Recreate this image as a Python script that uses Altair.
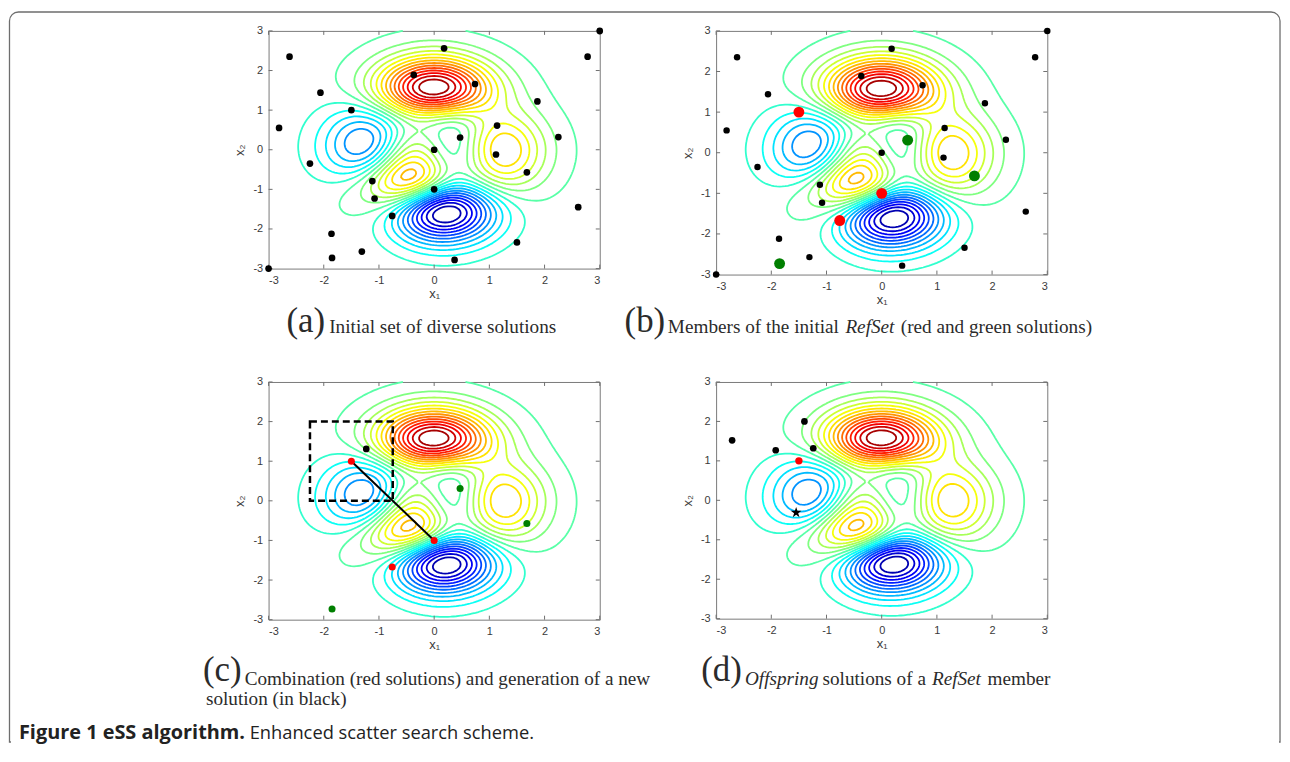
import numpy as np
import pandas as pd
import altair as alt

alt.data_transformers.disable_max_rows()

# ---------------- data ----------------
tick_values = [-3, -2, -1, 0, 1, 2, 3]

# (a) initial set of diverse solutions
a_x = [3.0, -2.62, 0.18, 2.78, -0.37, 0.74, -2.06, 1.87, -1.5, -2.81, 1.14, 0.47, 2.25, 0.0,
       1.12, -2.25, 1.68, -1.12, 0.0, -1.08, -0.76, 2.61, -1.86, 1.5, -1.31, -1.85, 0.37, -3.0]
a_y = [3.0, 2.35, 2.56, 2.35, 1.89, 1.66, 1.44, 1.22, 1.0, 0.55, 0.61, 0.31, 0.32, 0.0,
       -0.12, -0.35, -0.57, -0.79, -1.0, -1.23, -1.67, -1.45, -2.12, -2.34, -2.57, -2.73, -2.78, -3.0]

# (b) RefSet members
red_x = [-1.5, 0.0, -0.76]
red_y = [1.0, -1.0, -1.67]
green_x = [0.47, 1.68, -1.85]
green_y = [0.31, -0.57, -2.73]

# (c) combination
new_x = [-1.23]
new_y = [1.31]
comb_x = [-1.5, 0.0]
comb_y = [1.0, -1.0]
box_x = [-2.25, -0.75]
box_y = [0.0, 2.0]

# (d) offspring
off_x = [-2.71, -1.92, -1.40, -1.24]
off_y = [1.52, 1.27, 2.0, 1.32]
d_red_x = [-1.5]
d_red_y = [1.0]
star_x = [-1.55]
star_y = [-0.31]

n_levels = 25

STAR = ("M0,-1L0.2245,-0.309L0.951,-0.309L0.363,0.118L0.588,0.809L0,0.382"
        "L-0.588,0.809L-0.363,0.118L-0.951,-0.309L-0.2245,-0.309Z")

# ---------------- contour lines of the test function ----------------
def peaks(X, Y):
    return (3 * (1 - X) ** 2 * np.exp(-X ** 2 - (Y + 1) ** 2)
            - 10 * (X / 5 - X ** 3 - Y ** 5) * np.exp(-X ** 2 - Y ** 2)
            - 1 / 3 * np.exp(-(X + 1) ** 2 - Y ** 2))

gx = np.linspace(-3, 3, 121)
gy = np.linspace(-3, 3, 121)
GX, GY = np.meshgrid(gx, gy)
Z = peaks(GX, GY)
zmin, zmax = float(Z.min()), float(Z.max())
levels = np.linspace(zmin, zmax, n_levels + 2)[1:-1]


def trace(lev):
    above = Z >= lev
    c0 = above[:-1, :-1]; c1 = above[:-1, 1:]; c2 = above[1:, 1:]; c3 = above[1:, :-1]
    allin = c0 & c1 & c2 & c3
    allout = ~(c0 | c1 | c2 | c3)
    cells = np.argwhere(~(allin | allout))
    adj = {}

    def add(a, b):
        adj.setdefault(a, []).append(b)
        adj.setdefault(b, []).append(a)

    pairs = [(0, 1), (1, 2), (3, 2), (0, 3)]
    for j, i in cells:
        j = int(j); i = int(i)
        c = [bool(above[j, i]), bool(above[j, i + 1]), bool(above[j + 1, i + 1]), bool(above[j + 1, i])]
        E = [('h', j, i), ('v', j, i + 1), ('h', j + 1, i), ('v', j, i)]
        cross = [k for k in range(4) if c[pairs[k][0]] != c[pairs[k][1]]]
        if len(cross) == 2:
            add(E[cross[0]], E[cross[1]])
        elif len(cross) == 4:
            center = bool((Z[j, i] + Z[j, i + 1] + Z[j + 1, i + 1] + Z[j + 1, i]) / 4 >= lev)
            if center == c[0]:
                add(E[0], E[1]); add(E[2], E[3])
            else:
                add(E[0], E[3]); add(E[1], E[2])

    def pt(key):
        t, j, i = key
        if t == 'h':
            z0, z1 = Z[j, i], Z[j, i + 1]
            f = (lev - z0) / (z1 - z0)
            return gx[i] + f * (gx[i + 1] - gx[i]), gy[j]
        z0, z1 = Z[j, i], Z[j + 1, i]
        f = (lev - z0) / (z1 - z0)
        return gx[i], gy[j] + f * (gy[j + 1] - gy[j])

    visited = set()

    def walk(start):
        path = [start]
        visited.add(start)
        cur = start
        while True:
            nxt = [n for n in adj[cur] if n not in visited]
            if not nxt:
                break
            cur = nxt[0]
            visited.add(cur)
            path.append(cur)
        return path

    paths = []
    for k, v in adj.items():
        if len(v) == 1 and k not in visited:
            paths.append(walk(k))
    for k in list(adj.keys()):
        if k not in visited:
            p = walk(k)
            p.append(p[0])
            paths.append(p)
    return [[pt(k) for k in p] for p in paths]


rows = []
pid = 0
for lev in levels:
    for path in trace(lev):
        for k, (px, py) in enumerate(path):
            rows.append((round(float(lev), 3), pid, k, round(float(px), 3), round(float(py), 3)))
        pid += 1
contour_df = pd.DataFrame(rows, columns=['lev', 'pid', 'k', 'x', 'y'])

tick_df = pd.DataFrame({'t': tick_values})
one = pd.DataFrame({'o': [0]})


def pts(xs, ys):
    return pd.DataFrame({'x': xs, 'y': ys})


refset = set(zip(red_x + green_x, red_y + green_y))
b_black = [(x, y) for x, y in zip(a_x, a_y) if (x, y) not in refset]
bb_x = [p[0] for p in b_black]
bb_y = [p[1] for p in b_black]

# ---------------- styling ----------------
W = 333
zr = zmax - zmin
jet = alt.Scale(domain=[zmin, zmin + zr / 8, zmin + 3 * zr / 8, zmin + 5 * zr / 8, zmin + 7 * zr / 8, zmax],
                range=['#00008f', '#0000ff', '#00ffff', '#ffff00', '#ff0000', '#800000'],
                interpolate='rgb')
sx = alt.Scale(domain=[-3, 3], nice=False, zero=False)
sy = alt.Scale(domain=[-3, 3], nice=False, zero=False)
SERIF = 'Liberation Serif'
TXT = '#2b2b2b'
FS = 19.3     # caption text size
BIG = 35      # (a) (b) (c) (d) size


def x_axis():
    return alt.Axis(values=tick_values, title='x₁', labelExpr="'' + datum.value", tickSize=0,
                    domain=False, grid=False, labelPadding=6, titlePadding=2)


def y_axis():
    return alt.Axis(values=tick_values, title='x₂', labelExpr="'' + datum.value", tickSize=0,
                    domain=False, grid=False, labelPadding=6, titlePadding=6)


def X(field):
    return alt.X(field, scale=sx, axis=x_axis())


def Y(field):
    return alt.Y(field, scale=sy, axis=y_axis())


def txt(s, x, y, size, style='normal', weight='normal', align='left', font=SERIF, color=TXT):
    return alt.Chart(one).mark_text(text=s, font=font, fontSize=size, fontStyle=style,
                                    fontWeight=weight, align=align, baseline='alphabetic',
                                    color=color).encode(x=alt.value(x), y=alt.value(y))


def dots(xs, ys, color, size, shape='circle'):
    return alt.Chart(pts(xs, ys)).mark_point(filled=True, color=color, size=size, opacity=1,
                                             shape=shape).encode(x=X('x:Q'), y=Y('y:Q'))


def panel(h, layers):
    contours = alt.Chart(contour_df).mark_line(strokeWidth=1.8).encode(
        x=X('x:Q'), y=Y('y:Q'),
        color=alt.Color('lev:Q', scale=jet, legend=None),
        detail='pid:N',
        order=alt.Order('k:Q'))
    tk = '#707070'
    ticks = [
        alt.Chart(tick_df).mark_rule(color=tk).encode(x=X('t:Q'), y=alt.value(0), y2=alt.value(4)),
        alt.Chart(tick_df).mark_rule(color=tk).encode(x=X('t:Q'), y=alt.value(h), y2=alt.value(h - 4)),
        alt.Chart(tick_df).mark_rule(color=tk).encode(y=Y('t:Q'), x=alt.value(0), x2=alt.value(4)),
        alt.Chart(tick_df).mark_rule(color=tk).encode(y=Y('t:Q'), x=alt.value(W), x2=alt.value(W - 4)),
    ]
    return alt.layer(contours, *ticks, *layers).properties(width=W, height=h)


# page origin of panel (a) plot area is (269, 30)
frame = alt.Chart(one).mark_rect(fillOpacity=0, stroke='#6e6e6e', strokeWidth=1.3,
                                 cornerRadiusTopLeft=9, cornerRadiusTopRight=9).encode(
    x=alt.value(-260.5), x2=alt.value(1286 - 269), y=alt.value(-19), y2=alt.value(745 - 30))
frame_cut = alt.Chart(one).mark_rule(color='white', strokeWidth=3).encode(
    x=alt.value(-259), x2=alt.value(1285 - 269), y=alt.value(745 - 30))

pa = panel(239, [
    frame, frame_cut,
    dots(a_x, a_y, 'black', 45),
    txt('(a)', 18, 303, BIG),
    txt('Initial set of diverse solutions', 61, 304, FS),
])

pb = panel(245, [
    dots(bb_x, bb_y, 'black', 42),
    dots(red_x, red_y, '#ff0000', 120),
    dots(green_x, green_y, '#007f00', 120),
    txt('(b)', -92, 303, BIG),
    txt('Members of the initial', -48.5, 304, FS),
    txt('RefSet', 130, 304, FS, style='italic'),
    txt('(red and green solutions)', 378, 304, FS, align='right'),
])

box = alt.Chart(pd.DataFrame({'x': [box_x[0]], 'x2': [box_x[1]], 'y': [box_y[0]], 'y2': [box_y[1]]})).mark_rect(
    fillOpacity=0, stroke='black', strokeWidth=2.5, strokeDash=[7, 4]).encode(
    x=X('x:Q'), x2='x2:Q', y=Y('y:Q'), y2='y2:Q')
comb = alt.Chart(pts(comb_x, comb_y)).mark_line(color='black', strokeWidth=2).encode(
    x=X('x:Q'), y=Y('y:Q'))

pc = panel(239, [
    box, comb,
    dots(red_x, red_y, '#ff0000', 50),
    dots(green_x, green_y, '#007f00', 50),
    dots(new_x, new_y, 'black', 45),
    txt('(c)', -66, 301, BIG),
    txt('Combination (red solutions) and generation of a new', -24, 305, FS),
    txt('solution (in black)', -63, 325, FS),
    txt('Figure 1 eSS algorithm.', -251, 359, 20, weight='bold', font='Open Sans', color='#222'),
    txt('Enhanced scatter search scheme.', -19, 359, 18.4, font='Open Sans', color='#222'),
])

pd_ = panel(238, [
    dots(off_x, off_y, 'black', 45),
    dots(d_red_x, d_red_y, '#ff0000', 55),
    dots(star_x, star_y, 'black', 130, shape=STAR),
    txt('(d)', -15, 301, BIG),
    txt('Offspring', 29, 305, FS, style='italic'),
    txt('solutions of a', 107, 305, FS),
    txt('RefSet', 217, 305, FS, style='italic'),
    txt('member', 273, 305, FS),
])

chart = alt.concat(pa, pb, pc, pd_, columns=2, bounds='flush',
                   spacing=alt.RowColnumber(row=108, column=117)).properties(
    padding=0, background='white'
).configure_view(stroke='#7a7a7a', strokeWidth=1).configure_axis(
    labelFont='Liberation Sans', labelFontSize=11, labelColor='#3a3a3a',
    titleFont='Liberation Sans', titleFontSize=13, titleFontWeight='normal', titleColor='#3a3a3a')

chart.save('out.html', embed_options={'renderer': 'svg', 'actions': False})
